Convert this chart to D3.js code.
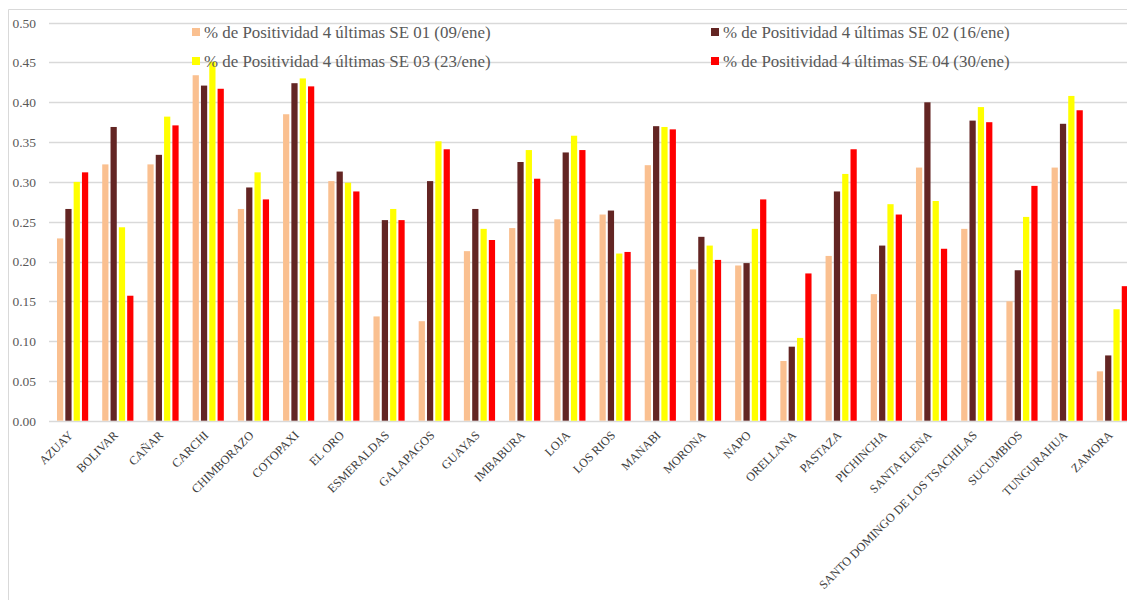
<!DOCTYPE html>
<html><head><meta charset="utf-8">
<script src="https://cdn.jsdelivr.net/npm/d3@7"></script>
<style>body{margin:0;background:#fff}svg{display:block}</style>
</head><body>
<svg id="c" width="1127" height="600"></svg>
<script>
const categories = ["AZUAY","BOLIVAR","CAÑAR","CARCHI","CHIMBORAZO","COTOPAXI","EL ORO","ESMERALDAS","GALAPAGOS","GUAYAS","IMBABURA","LOJA","LOS RIOS","MANABI","MORONA","NAPO","ORELLANA","PASTAZA","PICHINCHA","SANTA ELENA","SANTO DOMINGO DE LOS TSACHILAS","SUCUMBIOS","TUNGURAHUA","ZAMORA"];
const seriesNames = ["% de Positividad 4 últimas SE 01 (09/ene)","% de Positividad 4 últimas SE 02 (16/ene)","% de Positividad 4 últimas SE 03 (23/ene)","% de Positividad 4 últimas SE 04 (30/ene)"];
const se01 = [0.229,0.322,0.322,0.434,0.266,0.385,0.301,0.131,0.125,0.213,0.242,0.253,0.259,0.321,0.190,0.195,0.075,0.207,0.159,0.318,0.241,0.150,0.318,0.062];
const se02 = [0.266,0.369,0.334,0.421,0.293,0.424,0.313,0.252,0.301,0.266,0.325,0.337,0.264,0.370,0.231,0.198,0.093,0.288,0.220,0.400,0.377,0.189,0.373,0.082];
const se03 = [0.300,0.243,0.382,0.451,0.312,0.430,0.299,0.266,0.351,0.241,0.340,0.358,0.210,0.369,0.220,0.241,0.104,0.310,0.272,0.276,0.394,0.256,0.408,0.140];
const se04 = [0.312,0.157,0.371,0.417,0.278,0.420,0.288,0.252,0.341,0.227,0.304,0.340,0.212,0.366,0.202,0.278,0.185,0.341,0.259,0.216,0.375,0.295,0.390,0.169];
const yTicks = [0,0.05,0.10,0.15,0.20,0.25,0.30,0.35,0.40,0.45,0.50];
const colors = ["#FAC090","#632523","#FFFF00","#FF0000"];

const series = [se01,se02,se03,se04];
const svg = d3.select("#c");
const font = "'Liberation Serif','Times New Roman',serif";

// outer frame
svg.append("path").attr("d","M8.5,600 V9.5 H1127").attr("fill","none").attr("stroke","#d9d9d9").attr("stroke-width",1);

const x = d3.scaleBand().domain(categories).range([50,1135]).paddingInner(0.31).paddingOuter(0.155);
const xs = d3.scaleBand().domain(d3.range(4)).range([0,x.bandwidth()]).paddingInner(0.25);
const y = d3.scaleLinear().domain([0,0.5]).range([420.7,22.7]);

// gridlines
const grid = svg.append("g");
grid.selectAll("line").data(yTicks).join("line")
  .attr("x1",49).attr("x2",1127)
  .attr("y1",d=>Math.round(y(d))+0.5).attr("y2",d=>Math.round(y(d))+0.5)
  .attr("stroke","#d9d9d9").attr("stroke-width",1.4);

// y axis labels
const ya = svg.append("g").attr("transform","translate(36,0)")
  .call(d3.axisLeft(y).tickValues(yTicks).tickFormat(d3.format(".2f")).tickSize(0));
ya.attr("font-family",font);
ya.select(".domain").remove();
ya.selectAll("text").style("font-family",font).attr("font-size",13.5).attr("fill","#595959").attr("x",0).attr("dy","0.32em");

// bars
const g = svg.append("g");
series.forEach((s,i)=>{
  g.selectAll(null).data(s).join("rect")
    .attr("x",(d,j)=>x(categories[j])+xs(i))
    .attr("width",xs.bandwidth())
    .attr("y",d=>y(d))
    .attr("height",d=>y(0)-y(d))
    .attr("fill",colors[i]);
});

// x labels
const xa = svg.append("g").attr("transform","translate(0,421)")
  .call(d3.axisBottom(x).tickSize(0));
xa.attr("font-family",font);
xa.select(".domain").remove();
xa.selectAll("text").style("font-family",font).attr("font-size",12.2).attr("fill","#404040")
  .attr("text-anchor","end").attr("dy",0).attr("y",0)
  .attr("transform","translate(1,15) rotate(-45)");

// legend
const legPos = [[192,32],[711,32],[192,61],[711,61]];
const lg = svg.append("g");
seriesNames.forEach((n,i)=>{
  const [lx,ly] = legPos[i];
  lg.append("rect").attr("x",lx).attr("y",ly-4).attr("width",8).attr("height",8).attr("fill",colors[i]);
  lg.append("text").attr("x",lx+12).attr("y",ly).attr("dy","0.35em")
    .style("font-family",font).attr("font-size",16.9).attr("fill","#595959").text(n);
});
</script>
</body></html>
